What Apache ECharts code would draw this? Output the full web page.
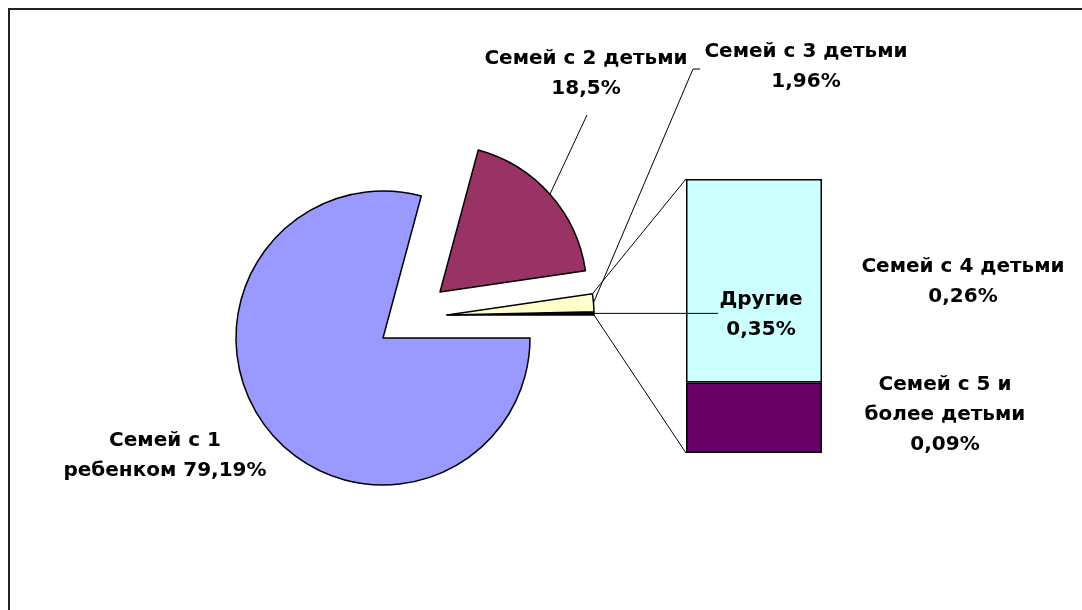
<!DOCTYPE html>
<html>
<head>
<meta charset="utf-8">
<script src="https://cdn.jsdelivr.net/npm/echarts@6/dist/echarts.min.js"></script>
<style>
  html, body { margin: 0; padding: 0; background: #ffffff; }
  #chart { width: 1082px; height: 610px; }
</style>
</head>
<body>
<div id="chart"></div>
<script>
// Pie slices, laid out counter-clockwise starting at 3 o'clock
const pieNames = ['Другие', 'Семей с 3 детьми', 'Семей с 2 детьми', 'Семей с 1 ребенком'];
const pieValues = [0.35, 1.96, 18.5, 79.19];
const pieColors = ['#000000', '#ffffcc', '#993366', '#9999ff'];
const pieLabels = ['Другие\n{v}', 'Семей с 3 детьми\n{v}', 'Семей с 2 детьми\n{v}', 'Семей с 1\nребенком {v}'];

// Breakdown of the "Другие" slice, stacked bottom to top
const barNames = ['Семей с 5 и более детьми', 'Семей с 4 детьми'];
const barValues = [0.09, 0.26];
const barColors = ['#660066', '#ccffff'];
const barLabels = ['Семей с 5 и\nболее детьми\n{v}', 'Семей с 4 детьми\n{v}'];

const fmt = v => String(v).replace('.', ',') + '%';
const FONT = 'bold 20px "DejaVu Sans"';

// Pie geometry: each group of slices is pulled out by its own offset
const R = 147;
const C0 = [383, 338];
const groups = [
  { items: [3], offset: [0, 0] },
  { items: [2], offset: [57, -46] },
  { items: [0, 1], offset: [64, -23] }
];
const groupOf = i => groups.find(g => g.items.includes(i));

const total = pieValues.reduce((a, b) => a + b, 0);
const startDeg = [], endDeg = [];
let acc = 0;
pieValues.forEach(v => { startDeg.push(acc / total * 360); acc += v; endDeg.push(acc / total * 360); });
const midDeg = i => (startDeg[i] + endDeg[i]) / 2;
function arcPoint(i, deg, r) {
  const g = groupOf(i);
  const a = deg * Math.PI / 180;
  return [C0[0] + g.offset[0] + r * Math.cos(a), C0[1] + g.offset[1] - r * Math.sin(a)];
}

const pieSeries = groups.map(g => ({
  type: 'pie',
  center: [C0[0] + g.offset[0], C0[1] + g.offset[1]],
  radius: [0, R],
  startAngle: 0,
  clockwise: false,
  silent: true,
  label: { show: false },
  labelLine: { show: false },
  emphasis: { disabled: true },
  data: pieValues.map((v, i) => ({
    name: pieNames[i],
    value: v,
    itemStyle: g.items.includes(i)
      ? { color: pieColors[i], borderColor: '#000', borderWidth: 1.5 }
      : { color: 'rgba(0,0,0,0)', borderWidth: 0 }
  }))
}));

const otherValue = Math.round(barValues.reduce((a, b) => a + b, 0) * 100) / 100;
const GRID = { left: 686, top: 179, width: 136, height: 274 };

const barSeries = barValues.map((v, i) => ({
  type: 'bar',
  name: barNames[i],
  stack: 'other',
  barWidth: '100%',
  silent: true,
  data: [v],
  itemStyle: { color: barColors[i], borderColor: '#000', borderWidth: 1.5 }
}));

const chart = echarts.init(document.getElementById('chart'), null, { renderer: 'canvas' });
chart.setOption({
  animation: false,
  backgroundColor: '#ffffff',
  grid: GRID,
  xAxis: { type: 'category', data: [pieNames[0]], show: false },
  yAxis: { type: 'value', min: 0, max: otherValue, show: false },
  series: [...pieSeries, ...barSeries]
});

// Bar corners from the value axis
const yTop = chart.convertToPixel({ yAxisIndex: 0 }, otherValue);
const yBottom = chart.convertToPixel({ yAxisIndex: 0 }, 0);

const lineStyle = { stroke: '#000', lineWidth: 1, fill: null };
const textStyle = (text) => ({ text, font: FONT, fill: '#000', textAlign: 'center', textVerticalAlign: 'middle', lineHeight: 30 });

const pTopGroup = arcPoint(1, endDeg[1], R);
const pBottomGroup = arcPoint(0, startDeg[0], R);
const pOther = arcPoint(0, midDeg(0), R);
const p3 = arcPoint(1, midDeg(1), R);
const p2 = arcPoint(2, midDeg(2), R);

const pieLabelPos = [[761, 315], [806, 67], [586, 74], [165, 456]];
const barLabelPos = [[945, 415], [963, 282]];

const graphic = [
  // chart frame
  { type: 'rect', shape: { x: 9, y: 9, width: 1200, height: 800 }, style: { fill: null, stroke: '#222', lineWidth: 2 }, silent: true, z: 0 },
  // series lines from the pulled-out slice to the bar
  { type: 'polyline', shape: { points: [pTopGroup, [GRID.left, yTop]] }, style: lineStyle, silent: true, z: 20 },
  { type: 'polyline', shape: { points: [pBottomGroup, [GRID.left, yBottom]] }, style: lineStyle, silent: true, z: 20 },
  // leader lines
  { type: 'polyline', shape: { points: [p2, [587, 115]] }, style: lineStyle, silent: true, z: 20 },
  { type: 'polyline', shape: { points: [p3, [693, 69], [700, 69]] }, style: lineStyle, silent: true, z: 20 },
  { type: 'polyline', shape: { points: [pOther, [718, pOther[1]]] }, style: lineStyle, silent: true, z: 20 }
];
pieLabels.forEach((t, i) => {
  graphic.push({ type: 'text', x: pieLabelPos[i][0], y: pieLabelPos[i][1], style: textStyle(t.replace('{v}', fmt(pieValues[i]))), silent: true, z: 30 });
});
barLabels.forEach((t, i) => {
  graphic.push({ type: 'text', x: barLabelPos[i][0], y: barLabelPos[i][1], style: textStyle(t.replace('{v}', fmt(barValues[i]))), silent: true, z: 30 });
});
chart.setOption({ graphic });
</script>
</body>
</html>
